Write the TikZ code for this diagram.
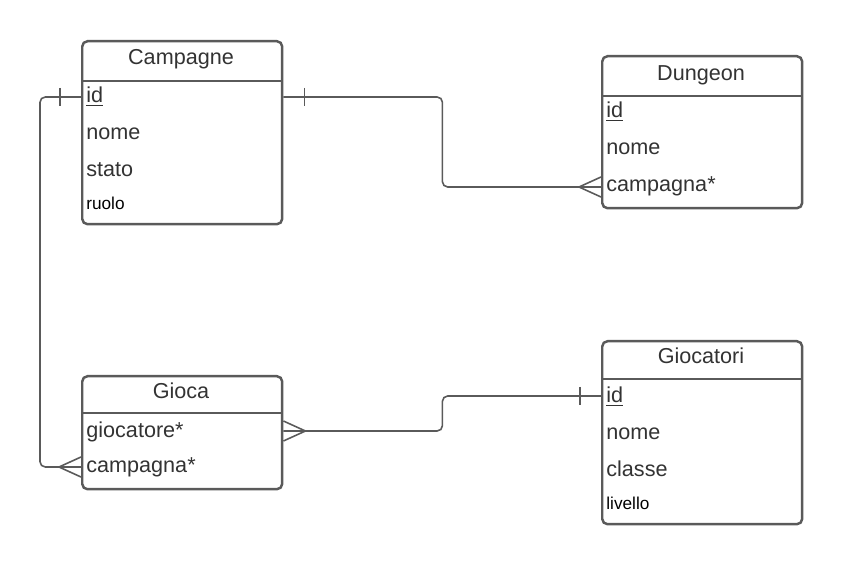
\documentclass[tikz,border=0pt]{standalone}
\usepackage{fontspec}
\setmainfont{Liberation Sans}
\usetikzlibrary{calc}

\definecolor{linegray}{HTML}{5A5A5A}
\definecolor{textgray}{HTML}{333333}

\tikzset{
  entity/.style={draw=linegray,line width=1.4pt,rounded corners=3pt,minimum width=4cm,anchor=north west,inner sep=0pt},
  sep/.style={draw=linegray,line width=1.4pt},
  head/.style={anchor=base,inner sep=0pt,text=textgray,font=\fontsize{12.3}{14}\selectfont},
  attr/.style={anchor=base west,inner sep=0pt,text=textgray,font=\fontsize{12.3}{14}\selectfont},
  small/.style={anchor=base west,inner sep=0pt,text=black,font=\fontsize{9.8}{12}\selectfont},
  link/.style={draw=linegray,line width=0.9pt},
}

\begin{document}
\begin{tikzpicture}[x=0.02cm,y=-0.02cm]
  \useasboundingbox (0,0) rectangle (842,563);

  % Campagne
  \node[entity,minimum height=3.66cm] (campagne) at (81,40) {};
  \draw[sep] ($(campagne.north west)+(0,41)$) -- ($(campagne.north east)+(0,41)$);
  \node[head] (c-head) at (181,65) {Campagne};
  \node[attr] (c-id) at (86,103) {\underline{id}};
  \node[attr] (c-nome) at (86,140) {nome};
  \node[attr] (c-stato) at (86,177) {stato};
  \node[small] (c-ruolo) at (86,210) {ruolo};

  % Dungeon
  \node[entity,minimum height=3.04cm] (dungeon) at (601,55) {};
  \draw[sep] ($(dungeon.north west)+(0,41)$) -- ($(dungeon.north east)+(0,41)$);
  \node[head] (d-head) at (701,81) {Dungeon};
  \node[attr] (d-id) at (606,118) {\underline{id}};
  \node[attr] (d-nome) at (606,155) {nome};
  \node[attr] (d-camp) at (606,192) {campagna*};

  % Gioca
  \node[entity,minimum height=2.26cm] (gioca) at (81,375) {};
  \draw[sep] ($(gioca.north west)+(0,38)$) -- ($(gioca.north east)+(0,38)$);
  \node[head] (g-head) at (181,399) {Gioca};
  \node[attr] (g-gioc) at (86,438) {giocatore*};
  \node[attr] (g-camp) at (86,473) {campagna*};

  % Giocatori
  \node[entity,minimum height=3.66cm] (giocatori) at (601,340) {};
  \draw[sep] ($(giocatori.north west)+(0,39)$) -- ($(giocatori.north east)+(0,39)$);
  \node[head] (gi-head) at (701,364) {Giocatori};
  \node[attr] (gi-id) at (606,403) {\underline{id}};
  \node[attr] (gi-nome) at (606,440) {nome};
  \node[attr] (gi-classe) at (606,477) {classe};
  \node[small] (gi-liv) at (606,510) {livello};

  % Campagne - Gioca
  \coordinate (c-left) at (campagne.west |- 0,97);
  \coordinate (g-left) at (gioca.west |- 0,467);
  \draw[link,rounded corners=3pt] (c-left) -- ++(-41,0) |- (g-left);
  \draw[link] ($(c-left)+(-21,-9)$) -- ++(0,18);
  \draw[link] (g-left) ++(0,-10) -- ++(-22,10) -- ++(22,10);

  % Campagne - Dungeon
  \coordinate (c-right) at (campagne.east |- 0,97);
  \coordinate (d-left) at (dungeon.west |- 0,187);
  \draw[link,rounded corners=3pt] (c-right) -- ++(159,0) |- (d-left);
  \draw[link] ($(c-right)+(21,-9)$) -- ++(0,18);
  \draw[link] (d-left) ++(0,-10) -- ++(-22,10) -- ++(22,10);

  % Gioca - Giocatori
  \coordinate (g-right) at (gioca.east |- 0,431);
  \coordinate (gi-left) at (giocatori.west |- 0,396);
  \draw[link,rounded corners=3pt] (g-right) -- ++(159,0) |- (gi-left);
  \draw[link] ($(gi-left)+(-21,-9)$) -- ++(0,18);
  \draw[link] (g-right) ++(0,-10) -- ++(22,10) -- ++(-22,10);
\end{tikzpicture}
\end{document}
